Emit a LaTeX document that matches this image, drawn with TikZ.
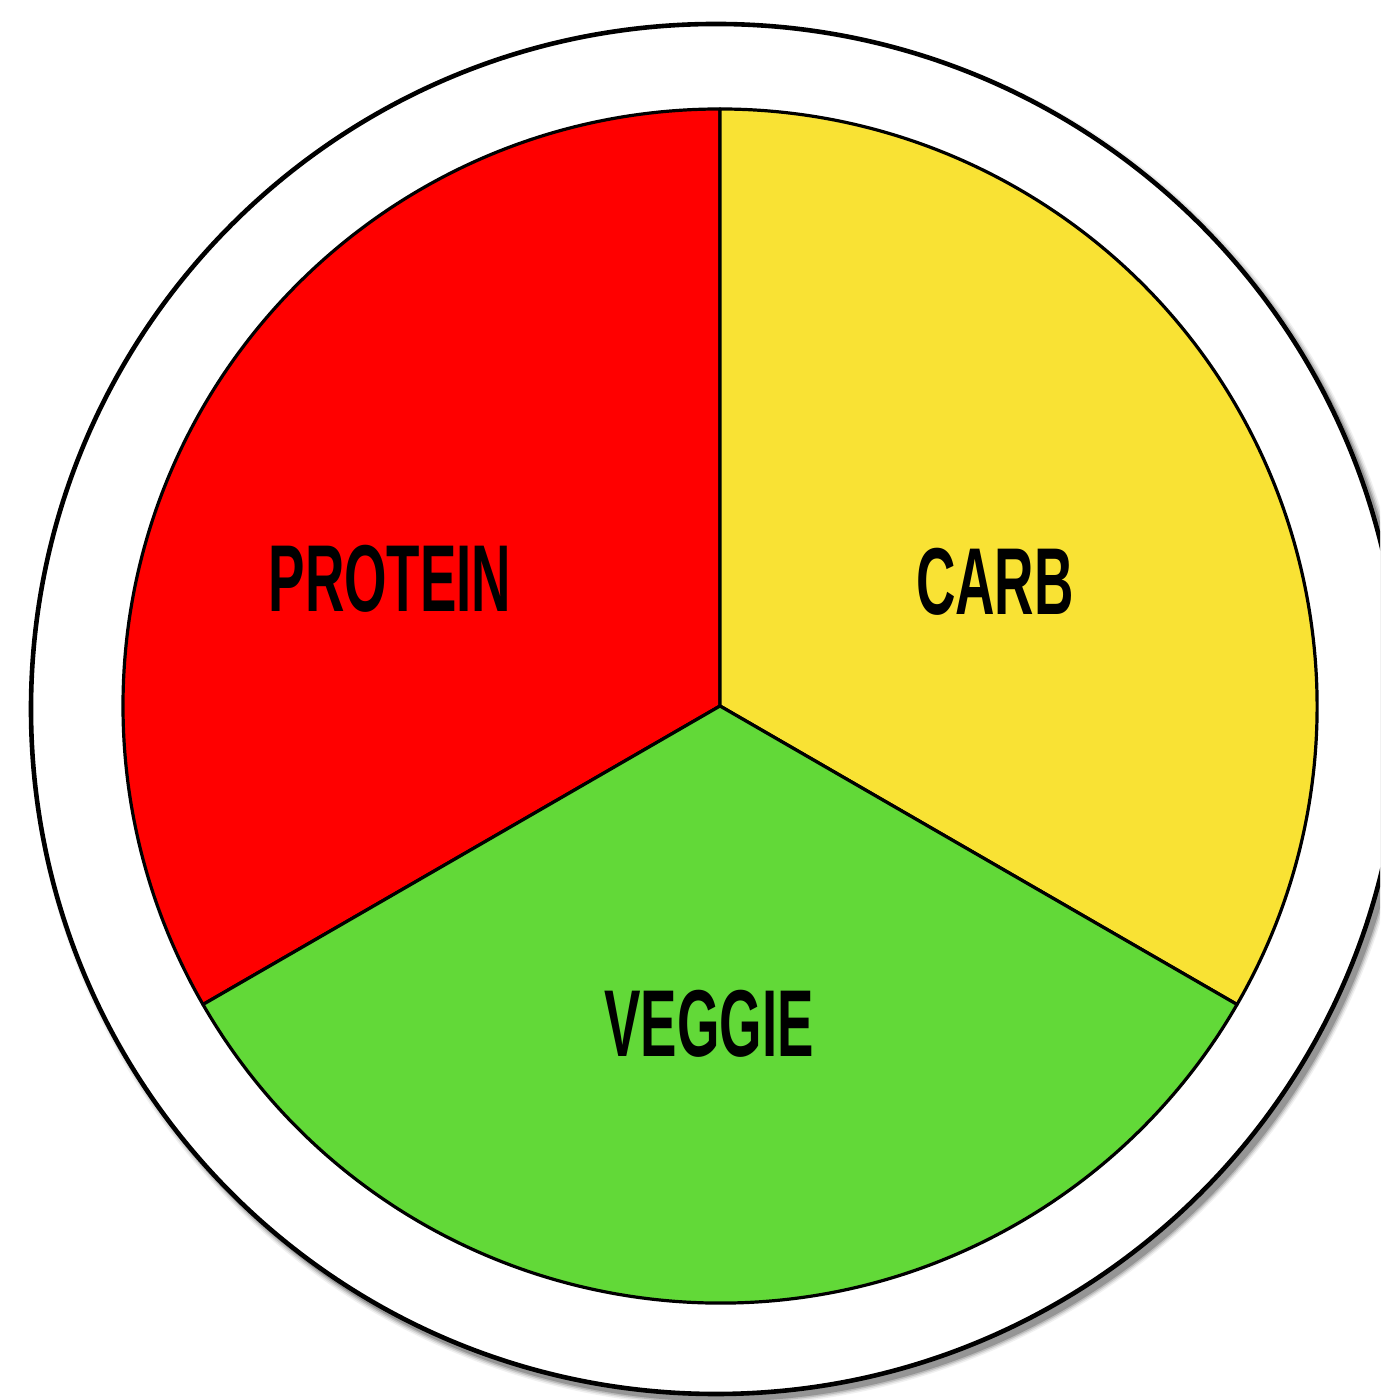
\documentclass[tikz,border=0pt]{standalone}
\usepackage{fontspec}
\setmainfont{Liberation Sans}
\definecolor{pieRed}{RGB}{255,0,0}
\definecolor{pieYellow}{RGB}{249,226,52}
\definecolor{pieGreen}{RGB}{98,217,56}
\tikzset{
  slice/.style={draw=black, line width=1.6pt, line join=round},
  lbl/.style={font=\fontsize{47.5pt}{50pt}\selectfont\bfseries, text=black, xscale=0.575, inner sep=0pt},
}
\begin{document}
\begin{tikzpicture}[x=0.5pt,y=0.5pt]
\useasboundingbox (0,0) rectangle (1380,1400);
\clip (0,0) rectangle (1380,1400);
\fill[white] (0,0) rectangle (1380,1400);
% shadow of outer plate
\foreach \d/\o in {12/0.06,9/0.09,6/0.14,3/0.2}{
  \fill[black,opacity=\o] (721,685) circle[radius=685+\d/2];
}
\coordinate (oc) at (716,691);
\draw[fill=white, line width=2.3pt] (oc) circle[radius=685];
% pie
\coordinate (c) at (720,694);
\draw[slice, fill=pieRed] (c) -- ++(90:597) arc[start angle=90,end angle=210,radius=597] -- cycle;
\draw[slice, fill=pieYellow] (c) -- ++(-30:597) arc[start angle=-30,end angle=90,radius=597] -- cycle;
\draw[slice, fill=pieGreen] (c) -- ++(210:597) arc[start angle=210,end angle=330,radius=597] -- cycle;
\node[lbl] (protein) at (390,821) {PROTEIN};
\node[lbl] (carb) at (995,818) {CARB};
\node[lbl] (veggie) at (709,376) {VEGGIE};
\end{tikzpicture}
\end{document}
